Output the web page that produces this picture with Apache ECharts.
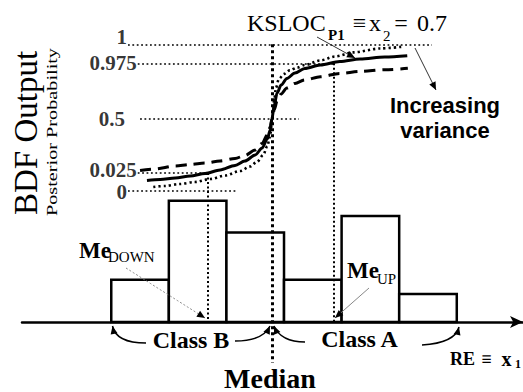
<!DOCTYPE html>
<html><head><meta charset="utf-8">
<script src="https://cdn.jsdelivr.net/npm/echarts@6/dist/echarts.min.js"></script>
<style>html,body{margin:0;padding:0;background:#fff}#c{width:523px;height:392px}</style>
</head><body><div id="c"></div>
<script>
// ---------- data (RE = x1 units on x; diagram units on the BDF axis) ----------
const binStarts = [0, 1, 2, 3, 4, 5];
const binEnds   = [1, 2, 3, 4, 5, 6];
const binCounts = [4.4, 12.6, 9.3, 4.4, 11.0, 2.9];

const solidX  = [0.62, 0.85, 1.11, 1.37, 1.63, 1.89, 2.15, 2.32, 2.50, 2.62, 2.71, 2.76, 2.79, 2.83, 2.88, 2.95, 3.05, 3.19, 3.36, 3.63, 3.97, 4.32, 4.75, 5.14];
const solidY  = [0.78, 0.85, 0.97, 1.12, 1.31, 1.58, 1.92, 2.26, 2.72, 3.25, 3.94, 4.62, 5.46, 6.53, 7.44, 8.05, 8.55, 8.96, 9.31, 9.57, 9.84, 10.03, 10.18, 10.28];
const dashedX = [0.50, 0.76, 1.11, 1.37, 1.63, 1.89, 2.15, 2.32, 2.50, 2.62, 2.71, 2.76, 2.79, 2.83, 2.88, 2.95, 3.05, 3.19, 3.36, 3.63, 3.97, 4.32, 4.75, 5.15];
const dashedY = [1.54, 1.65, 1.88, 2.00, 2.11, 2.26, 2.45, 2.68, 3.10, 3.60, 4.24, 4.85, 5.46, 6.15, 6.83, 7.37, 7.82, 8.17, 8.43, 8.68, 8.93, 9.08, 9.21, 9.32];
const dottedX = [0.73, 0.93, 1.19, 1.45, 1.72, 1.98, 2.24, 2.41, 2.53, 2.64, 2.71, 2.76, 2.79, 2.83, 2.86, 2.91, 3.00, 3.10, 3.23, 3.36, 3.63, 3.89, 4.20, 4.67, 5.07];
const dottedY = [0.28, 0.36, 0.51, 0.66, 0.89, 1.16, 1.50, 1.84, 2.19, 2.72, 3.40, 4.17, 5.46, 6.91, 7.82, 8.51, 8.89, 9.16, 9.38, 9.57, 9.92, 10.22, 10.53, 10.83, 10.97];

const levelLabels = ['0', '0.025', '0.5', '0.975', '1'];
const levelValues = [0, 1.35, 5.46, 9.70, 11.15];
const levelFrom   = [0.29, 0.46, 0.50, 0.46, 0.29];
const levelTo     = [2.20, 1.68, 3.26, 3.87, 5.57];

const meDown = 1.68, medianRE = 2.79, meUp = 3.87;
const baseBDF = -10, medianBottom = -13.1;

// ---------- helpers ----------
const zip = (xs, ys) => xs.map((x, i) => [x, ys[i]]);
const SERIF = 'Liberation Serif, Times New Roman, serif';
const SANS = 'Liberation Sans, Arial, sans-serif';

function arrowHead(x2, y2, fx, fy, len, half) {
  const a = Math.atan2(y2 - fy, x2 - fx), c = Math.cos(a), s = Math.sin(a);
  return { type: 'polygon', z: 20, shape: { points: [[x2, y2],
    [x2 - len * c - half * s, y2 - len * s + half * c],
    [x2 - len * c + half * s, y2 - len * s - half * c]] }, style: { fill: '#000' } };
}
function curveArrow(x1, y1, cx, cy, x2, y2, color, width, dash) {
  return [
    { type: 'bezierCurve', z: 20, shape: { x1: x1, y1: y1, x2: x2, y2: y2, cpx1: cx, cpy1: cy },
      style: { stroke: color, lineWidth: width, fill: null, lineDash: dash || null } },
    arrowHead(x2, y2, cx, cy, 8, 3.5)
  ];
}
function text(x, y, str, font, align, extra) {
  return Object.assign({ type: 'text', z: 20, x: x, y: y,
    style: Object.assign({ text: str, fill: '#000', align: align || 'center', verticalAlign: 'middle' }, font) }, extra || {});
}
const f = (size, bold, fam) => ({ fontFamily: fam || SERIF, fontSize: size, fontWeight: bold ? 'bold' : 'normal' });

const labelTweaks = { '1': { offset: [0, -7] }, '0.025': { offset: [0, -3] }, '0': { offset: [0, 1] }, '0.5': { distance: 15 } };

const chart = echarts.init(document.getElementById('c'), null, { renderer: 'svg' });
chart.setOption({
  animation: false,
  backgroundColor: '#fff',
  grid: { left: 22, right: 0, top: 33.1, bottom: 70, outerBoundsMode: 'none' },
  xAxis: { type: 'value', min: -1.55, max: 7.15,
    axisLine: { show: true, onZero: false, symbol: ['none', 'arrow'], symbolSize: [9, 13],
      lineStyle: { color: '#000', width: 2.5 } },
    axisTick: { show: false }, axisLabel: { show: false }, splitLine: { show: false } },
  yAxis: [
    { type: 'value', min: 0, max: 30, show: false, splitLine: { show: false } },
    { type: 'value', min: -10, max: 12, show: false, splitLine: { show: false } }
  ],
  series: [
    { type: 'custom', name: 'histogram', xAxisIndex: 0, yAxisIndex: 0, z: 1,
      data: binStarts.map((s, i) => [s, binEnds[i], binCounts[i]]),
      encode: { x: [0, 1], y: 2 },
      renderItem: function (params, api) {
        const p0 = api.coord([api.value(0), api.value(2)]);
        const p1 = api.coord([api.value(1), 0]);
        return { type: 'rect', shape: { x: p0[0], y: p0[1], width: p1[0] - p0[0], height: p1[1] - p0[1] },
          style: { fill: '#fff', stroke: '#000', lineWidth: 2.5 } };
      } },
    { type: 'lines', coordinateSystem: 'cartesian2d', xAxisIndex: 0, yAxisIndex: 1, z: 3, clip: false, silent: true,
      data: levelValues.map((v, i) => ({ coords: [[levelFrom[i], v], [levelTo[i], v]] })),
      lineStyle: { color: '#000', width: 1.6, type: [1.8, 2.6], opacity: 1 } },
    { type: 'lines', coordinateSystem: 'cartesian2d', xAxisIndex: 0, yAxisIndex: 1, z: 3, clip: false, silent: true,
      data: [{ coords: [[meDown, levelValues[1]], [meDown, baseBDF]] }, { coords: [[meUp, levelValues[3]], [meUp, baseBDF]] }],
      lineStyle: { color: '#000', width: 2, type: [2, 2.5], opacity: 1 } },
    { type: 'lines', coordinateSystem: 'cartesian2d', xAxisIndex: 0, yAxisIndex: 1, z: 3, clip: false, silent: true,
      data: [{ coords: [[medianRE, levelValues[4]], [medianRE, medianBottom]] }],
      lineStyle: { color: '#000', width: 3, type: [3, 3], opacity: 1 } },
    { type: 'scatter', xAxisIndex: 0, yAxisIndex: 1, symbolSize: 0, z: 4, silent: true,
      data: levelValues.map((v, i) => ({ value: [levelFrom[i], v], name: levelLabels[i],
        label: Object.assign({ show: true, position: 'left', distance: 1, formatter: levelLabels[i],
          fontFamily: SERIF, fontWeight: 'bold', fontSize: 21, color: '#000' }, labelTweaks[levelLabels[i]] || {}) })) },
    { type: 'line', name: 'dashed', xAxisIndex: 0, yAxisIndex: 1, data: zip(dashedX, dashedY), z: 5,
      smooth: 0.3, smoothMonotone: 'x', showSymbol: false, lineStyle: { color: '#000', width: 3, type: [11, 7] } },
    { type: 'line', name: 'dotted', xAxisIndex: 0, yAxisIndex: 1, data: zip(dottedX, dottedY), z: 5,
      smooth: 0.3, smoothMonotone: 'x', showSymbol: false, lineStyle: { color: '#000', width: 2.6, type: [2.2, 3] } },
    { type: 'line', name: 'solid', xAxisIndex: 0, yAxisIndex: 1, data: zip(solidX, solidY), z: 6,
      smooth: 0.3, smoothMonotone: 'x', showSymbol: false, lineStyle: { color: '#000', width: 3 } }
  ],
  graphic: { elements: [].concat(
    [
      text(25.5, 133, 'BDF Output', f(33), 'center', { rotation: Math.PI / 2 }),
      text(52, 132, 'Posterior Probability', f(15), 'center', { rotation: Math.PI / 2, scaleX: 1.35 }),
      // KSLOC_P1 ≡ x_2 = 0.7
      text(247, 22.5, 'KSLOC', f(24), 'left'),
      text(328, 35, 'P1', f(15, true), 'left'),
      text(359.5, 22.5, '≡', f(24), 'center'),
      text(375, 22.5, 'x', f(24), 'center'),
      text(383, 36, '2', f(15), 'left'),
      text(401, 22.5, '=', f(24), 'center'),
      text(432, 22.5, '0.7', f(24), 'center'),
      text(445, 117.5, 'Increasing\nvariance', Object.assign(f(22, true, SANS), { lineHeight: 25 })),
      // Me_DOWN, Me_UP
      text(79, 250, 'Me', f(23, true), 'left'),
      text(108, 257, 'DOWN', f(15), 'left'),
      text(347, 270, 'Me', f(23, true), 'left'),
      text(377, 279, 'UP', f(15), 'left'),
      text(191, 340, 'Class B', f(24, true)),
      text(359.5, 339, 'Class A', f(24, true)),
      text(270, 378, 'Median', f(28, true)),
      // RE ≡ x_1
      text(450, 358.5, 'RE', f(18, true), 'left'),
      text(486.5, 358.5, '≡', f(18, true), 'center'),
      text(506.5, 358.5, 'x', f(20, true), 'center'),
      text(515, 364, '1', f(12, true), 'left')
    ],
    curveArrow(317, 37, 336, 47.5, 355, 58, '#333', 1),
    curveArrow(415, 48, 425.5, 69, 436, 90, '#333', 1),
    curveArrow(126, 268, 165.5, 293, 205, 318, '#888', 1, [2, 2]),
    curveArrow(369, 288, 352, 303, 335, 318, '#888', 1),
    curveArrow(146, 343, 116, 343, 112.5, 326, '#000', 1.5),
    curveArrow(235, 341, 263, 341, 270, 326, '#000', 1.5),
    curveArrow(305, 342, 281, 342, 274, 326, '#000', 1.5),
    curveArrow(422, 345, 455, 343, 459, 327, '#000', 1.5)
  ) }
});
</script>
</body></html>
